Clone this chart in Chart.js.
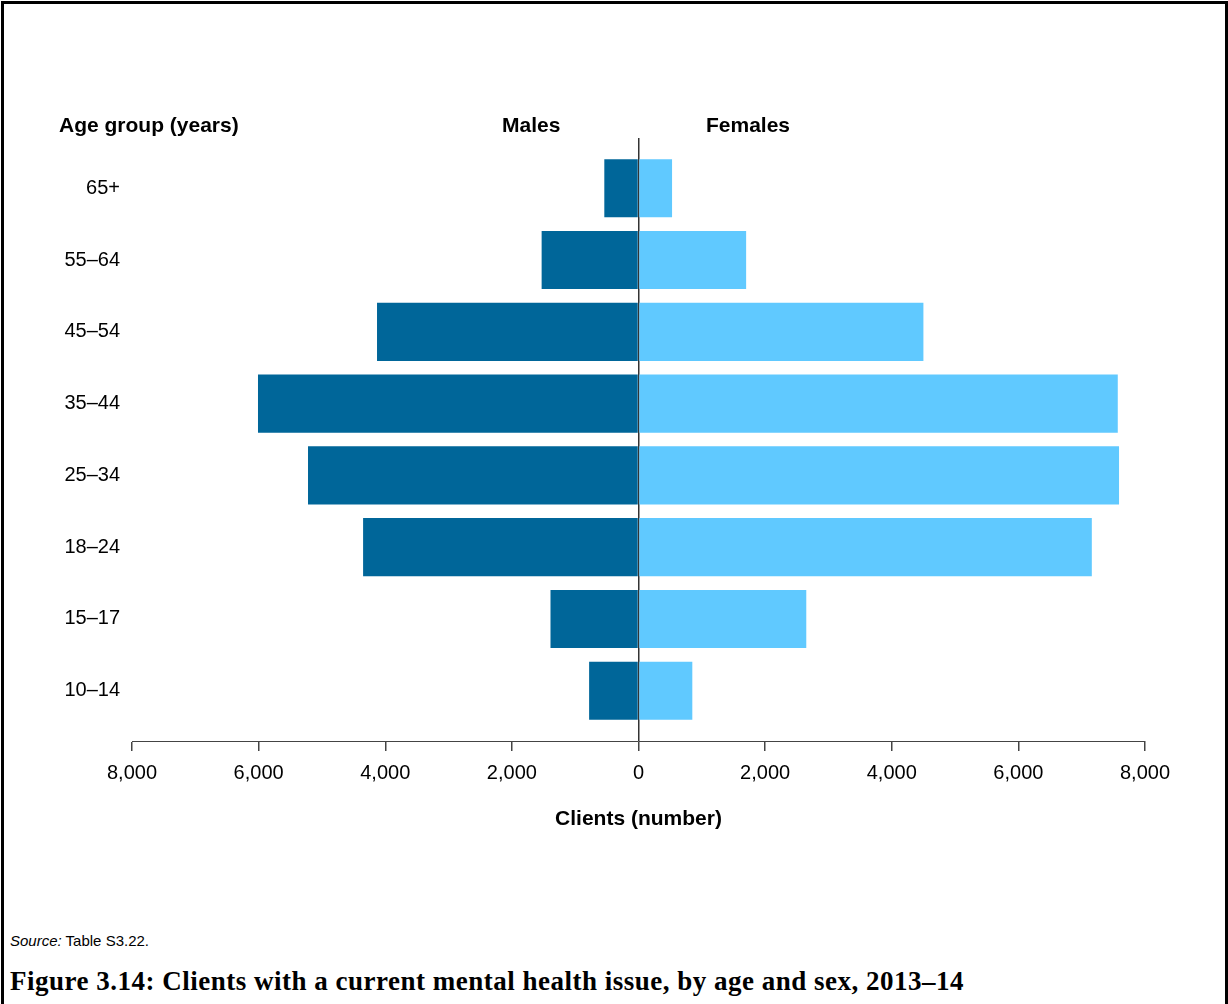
<!DOCTYPE html>
<html>
<head>
<meta charset="utf-8">
<script src="https://cdn.jsdelivr.net/npm/chart.js@4"></script>
<style>
  body { margin: 0; background: #fff; font-family: "Liberation Sans", Arial, sans-serif; }
  #frame { position: absolute; left: 1px; top: 1px; width: 1221px; height: 1020px;
           border: 3px solid #000; border-bottom: none; }
  #wrap { position: absolute; left: 0; top: 0; width: 1228px; height: 840px; }
  .hdr { position: absolute; font-weight: bold; font-size: 21px; color: #000; line-height: 24px; }
  #source { position: absolute; left: 10px; top: 932px; font-size: 15px; color: #000; }
  #caption { position: absolute; left: 10px; top: 966px; font-family: "Liberation Serif", serif;
             font-weight: bold; font-size: 27px; letter-spacing: 0.5px; color: #000; }
</style>
</head>
<body>
<div id="frame"></div>
<div id="wrap"><canvas id="myChart" width="1228" height="840"></canvas></div>
<div class="hdr" style="left:59px; top:113px;">Age group (years)</div>
<div class="hdr" style="left:502px; top:113px;">Males</div>
<div class="hdr" style="left:706px; top:113px;">Females</div>
<div id="source"><i>Source:</i> Table S3.22.</div>
<div id="caption">Figure 3.14: Clients with a current mental health issue, by age and sex, 2013–14</div>

<script>
// age groups, top to bottom as in the figure
const ageGroups = ['65+', '55–64', '45–54', '35–44', '25–34', '18–24', '15–17', '10–14'];
const males = [540, 1530, 4130, 6010, 5220, 4350, 1390, 780];
const females = [530, 1700, 4500, 7570, 7590, 7160, 2650, 850];
const xTicks = [-8000, -6000, -4000, -2000, 0, 2000, 4000, 6000, 8000];

document.addEventListener('DOMContentLoaded', function() {
  const data = {
    datasets: [{
      label: 'Males',
      backgroundColor: '#006699',
      borderWidth: 0,
      data: males.map((v, i) => ({ x: -v, y: i })),
      barPercentage: 0.9,
      categoryPercentage: 0.9
    }, {
      label: 'Females',
      backgroundColor: '#60C9FF',
      borderWidth: 0,
      data: females.map((v, i) => ({ x: v, y: i })),
      barPercentage: 0.9,
      categoryPercentage: 0.9
    }]
  };

  const config = {
    type: 'bar',
    data: data,
    options: {
      indexAxis: 'y',
      responsive: false,
      animation: false,
      layout: { padding: { top: 138, right: 83, left: 0, bottom: 0 } },
      plugins: {
        legend: { display: false },
        tooltip: { enabled: false }
      },
      scales: {
        x: {
          type: 'linear',
          stacked: true,
          min: xTicks[0],
          max: xTicks[xTicks.length - 1],
          afterBuildTicks: function(scale) {
            scale.ticks = xTicks.map(v => ({ value: v }));
          },
          afterFit: function(scale) { scale.height = 99; },
          border: { display: true, color: '#444', width: 1 },
          grid: {
            drawOnChartArea: true,
            color: ctx => (ctx.tick && ctx.tick.value === 0) ? '#333' : 'rgba(0,0,0,0)',
            lineWidth: 1.5,
            tickColor: '#444',
            tickLength: 10
          },
          ticks: {
            padding: 10,
            color: '#000',
            font: { family: '"Liberation Sans", Arial, sans-serif', size: 20 },
            callback: v => Math.abs(v).toLocaleString('en-US')
          },
          title: {
            display: true,
            text: 'Clients (number)',
            color: '#000',
            font: { family: '"Liberation Sans", Arial, sans-serif', size: 21, weight: 'bold' },
            padding: { top: 0, bottom: 8 }
          }
        },
        y: {
          type: 'linear',
          stacked: true,
          reverse: true,
          offset: false,
          min: -0.7,
          max: ageGroups.length - 1 + 0.7,
          afterFit: function(scale) { scale.width = 132; },
          border: { display: false },
          grid: { display: false, drawTicks: false },
          ticks: {
            stepSize: 1,
            includeBounds: false,
            autoSkip: false,
            padding: 12,
            color: '#000',
            font: { family: '"Liberation Sans", Arial, sans-serif', size: 20 },
            callback: v => (Number.isInteger(v) && ageGroups[v] !== undefined) ? ageGroups[v] : null
          }
        }
      }
    }
  };

  var myChart = new Chart(document.getElementById('myChart'), config);
});
</script>
</body>
</html>
